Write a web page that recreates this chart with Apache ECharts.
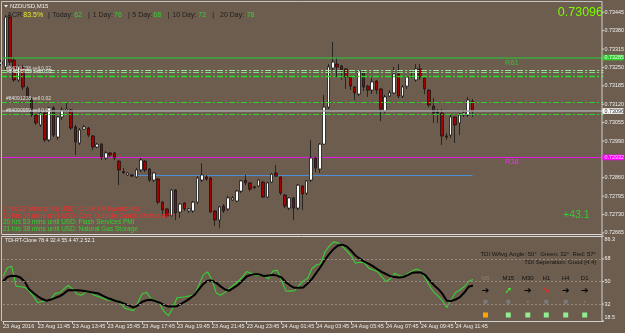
<!DOCTYPE html>
<html>
<head>
<meta charset="utf-8">
<script src="https://cdn.jsdelivr.net/npm/echarts@6/dist/echarts.min.js"></script>
<style>
    html, body { margin: 0; padding: 0; background: #6c5d4e; }
    #chart { width: 625px; height: 333px; }
</style>
</head>
<body>
<div id="chart"></div>
<script>
// NZDUSD M15, prices in points (0.7xxxx -> 7xxxx)
const opens = [73262,73252,73428,73276,73206,73252,73177,73135,73082,73047,73089,72994,73107,73004,73075,73098,73100,73040,72983,73032,
    73036,73008,72969,72979,72930,72948,72948,72919,72882,72870,72870,72863,72888,72919,72891,72852,72856,72774,72750,72725,
    72817,72739,72771,72743,72743,72774,72852,72863,72859,72743,72711,72760,72750,72782,72778,72813,72852,72842,72828,72831,
    72845,72792,72845,72877,72863,72799,72753,72789,72753,72831,72806,72852,72930,72891,72979,73110,73248,73262,73255,73245,
    73216,73181,73156,73234,73184,73170,73202,73174,73096,73149,73160,73227,73149,73184,73216,73206,73245,73213,73170,73114,
    73093,73089,73008,73011,73075,73054,73082,73082,73131];
const closes = [73269,73428,73269,73206,73252,73181,73142,73082,73054,73089,72994,73107,73011,73075,73100,73103,73036,72987,73029,73040,
    73011,72969,72979,72934,72948,72941,72930,72888,72878,72877,72866,72888,72923,72888,72852,72877,72774,72746,72725,72817,
    72736,72767,72750,72750,72774,72859,72870,72856,72739,72711,72757,72743,72789,72789,72813,72849,72842,72820,72826,72852,
    72792,72842,72873,72866,72806,72760,72789,72753,72834,72803,72849,72930,72895,72979,73110,73252,73269,73252,73241,73216,
    73184,73160,73238,73181,73170,73199,73170,73103,73146,73160,73227,73149,73181,73216,73220,73245,73216,73174,73117,73089,
    73089,73008,73004,73075,73047,73082,73089,73135,73096];
const lows = [73255,73241,73259,73199,73199,73170,73135,73075,73047,73040,72987,72987,73004,72994,73064,73093,73029,72941,72976,73029,
    73004,72958,72965,72923,72923,72934,72923,72834,72873,72866,72863,72859,72880,72880,72845,72845,72767,72725,72718,72718,
    72711,72718,72743,72736,72736,72767,72845,72849,72736,72690,72682,72736,72743,72778,72774,72806,72834,72813,72820,72827,
    72789,72789,72842,72863,72799,72753,72746,72711,72746,72746,72799,72845,72880,72877,72976,73103,73241,73216,73206,73174,
    73170,73135,73149,73167,73146,73156,73156,73060,73089,73146,73156,73142,73142,73174,73213,73199,73206,73156,73110,73054,
    73054,72976,72994,73001,72983,73011,73075,73075,73075];
const highs = [73276,73435,73435,73287,73259,73259,73184,73142,73085,73093,73093,73110,73114,73078,73110,73124,73103,73047,73036,73047,
    73040,73011,72983,72983,72955,72951,72951,72923,72895,72880,72873,72895,72930,72923,72895,72880,72859,72778,72753,72820,
    72820,72771,72774,72753,72778,72866,72912,72870,72863,72746,72760,72767,72796,72796,72817,72852,72870,72845,72831,72856,
    72849,72845,72877,72905,72866,72803,72792,72792,72838,72834,72852,72994,72934,72983,73153,73262,73340,73287,73259,73248,
    73220,73184,73241,73241,73188,73213,73206,73177,73153,73170,73252,73262,73188,73220,73241,73262,73262,73216,73174,73142,
    73103,73103,73018,73085,73078,73089,73100,73146,73138];

// TDI-RT-Clone lines
const tdiGreen = [53.9,61.0,62.2,46.3,45.8,45.3,42.5,38.2,33.0,34.0,34.7,35.8,40.5,41.0,44.1,46.8,44.1,40.1,39.0,41.3,
    41.3,39.0,37.8,36.6,35.1,35.5,35.0,32.6,28.7,27.7,26.8,33.4,40.3,41.3,36.2,35.0,32.2,26.1,22.8,28.7,
    37.1,37.5,37.9,38.6,39.0,47.0,55.1,57.7,51.6,40.9,39.0,41.3,44.5,47.2,50.0,53.5,57.9,56.6,54.7,55.1,
    54.7,52.1,58.2,59.1,50.8,42.5,42.3,42.7,46.8,50.5,52.4,60.4,63.2,64.2,73.7,78.4,81.6,80.8,77.8,74.5,
    70.7,64.5,65.4,65.0,60.8,59.2,58.1,53.9,50.0,52.0,56.5,54.7,53.9,56.3,58.4,59.9,58.6,53.0,46.4,41.6,
    38.3,34.6,29.2,35.6,41.2,43.2,45.8,50.2,51.6];
const tdiBlack = [50.0,53.6,54.6,54.4,53.2,49.8,43.8,40.8,38.2,36.0,34.7,35.6,36.9,38.2,40.4,43.1,43.1,43.1,42.8,42.3,
    41.7,41.1,40.4,38.6,36.9,35.7,34.5,33.4,32.2,30.7,29.1,30.9,33.9,35.0,35.4,34.4,33.1,31.4,30.0,30.0,
    30.3,32.4,34.3,36.6,39.2,43.7,47.9,50.6,50.8,48.9,46.1,43.6,42.7,44.9,47.2,50.6,54.0,55.3,55.9,55.6,
    54.3,54.7,55.4,54.7,53.2,49.4,46.8,45.0,45.0,45.3,48.4,52.0,56.9,61.8,67.4,72.1,76.0,78.8,79.4,78.0,
    74.7,70.7,68.2,65.9,64.2,62.3,59.9,57.7,56.0,54.3,53.6,53.2,53.6,55.1,56.9,57.1,57.3,55.2,51.1,47.2,
    44.1,40.1,34.6,34.5,35.6,37.5,41.2,45.8,46.8];

const timeLabels = ['23 Aug 2016','23 Aug 11:45','23 Aug 13:45','23 Aug 15:45','23 Aug 17:45','23 Aug 19:45','23 Aug 21:45',
    '23 Aug 23:45','24 Aug 01:45','24 Aug 03:45','24 Aug 05:45','24 Aug 07:45','24 Aug 09:45','24 Aug 11:45'];
const priceTicks = [73445,73380,73315,73250,73185,73120,73055,72990,72860,72795,72730,72665];
const tdiTicks = [86.3,68,50,32,18.5];
const tdiLevels = [68,50,32];

// horizontal levels
const r61Level = 73285;
const dashLevels = [73239,73232,73220,73127,73084];
const bidPrice = 73096;
const r38Level = 72932;
const blueLevel = 72870;
const blueFrom = 30, blueTo = 108;   // bar range of the blue level

const slots = 139; // bars plus empty right shift
const categories = [];
for (let i = 0; i < slots; i++) categories.push(i);

const candles = opens.map((o, i) => [o, closes[i], lows[i], highs[i]]);

const myChart = echarts.init(document.getElementById('chart'));
const FONT = '"Liberation Sans", Arial, sans-serif';
const labelInterval = function (idx) { return idx % 8 === 0 && idx / 8 < timeLabels.length; };

const option = {
    backgroundColor: '#6c5d4e',
    animation: false,
    grid: [
        {left: 1.1, right: 21.5, top: 2, height: 232},
        {left: 1.1, right: 21.5, top: 236, height: 85}
    ],
    xAxis: [
        {
            type: 'category', gridIndex: 0, data: categories, boundaryGap: false,
            axisLine: {show: false}, axisTick: {show: false}, axisLabel: {show: false}, splitLine: {show: false}
        },
        {
            type: 'category', gridIndex: 1, data: categories, boundaryGap: false,
            axisLine: {lineStyle: {color: '#cfcfcf', width: 1}},
            axisTick: {interval: labelInterval, length: 3, lineStyle: {color: '#cfcfcf'}},
            axisLabel: {
                interval: labelInterval, align: 'left', margin: 2, color: '#ececec',
                fontSize: 5.5, fontFamily: FONT,
                formatter: function (v, idx) { return timeLabels[idx / 8] || ''; }
            },
            splitLine: {show: false}
        }
    ],
    yAxis: [
        {type: 'value', gridIndex: 0, min: 72661.4, max: 73481.4, show: false, splitLine: {show: false}},
        {type: 'value', gridIndex: 1, min: 18.5, max: 86.3, show: false, splitLine: {show: false}}
    ],
    series: [
        {
            type: 'candlestick',
            xAxisIndex: 0, yAxisIndex: 0,
            data: candles,
            barWidth: 3,
            itemStyle: {
                color: '#ffffff', color0: '#a30000',
                borderColor: '#151515', borderColor0: '#151515', borderWidth: 0.8
            },
            markLine: {
                silent: true, symbol: 'none', animation: false,
                label: {show: false},
                emphasis: {disabled: true},
                data: [
                    {yAxis: r61Level, lineStyle: {color: '#3fa83f', width: 1.5, type: 'solid', opacity: 1}},
                    {yAxis: dashLevels[0], lineStyle: {color: '#9be69b', width: 1, type: [6, 2, 2, 2], opacity: 1}},
                    {yAxis: dashLevels[1], lineStyle: {color: '#7fdd7f', width: 1, type: [6, 2, 2, 2], opacity: 1}},
                    {yAxis: dashLevels[2], lineStyle: {color: '#22e022', width: 1.3, type: [6, 2, 2, 2], opacity: 1}},
                    {yAxis: dashLevels[3], lineStyle: {color: '#2ed12e', width: 1.2, type: [6, 2, 2, 2], opacity: 1}},
                    {yAxis: bidPrice, lineStyle: {color: '#a8a8a8', width: 1.5, type: 'solid', opacity: 1}},
                    {yAxis: dashLevels[4], lineStyle: {color: '#2ed12e', width: 1.2, type: [6, 2, 2, 2], opacity: 1}}
                ]
            },
            z: 3
        },
        {
            type: 'line', xAxisIndex: 1, yAxisIndex: 1, data: tdiGreen,
            symbol: 'none', lineStyle: {color: '#35d335', width: 1.1}, z: 3,
            markLine: {
                silent: true, symbol: 'none', label: {show: false},
                lineStyle: {color: '#958b80', width: 1, type: [2, 2]},
                data: tdiLevels.map(v => ({yAxis: v}))
            }
        },
        {
            type: 'line', xAxisIndex: 1, yAxisIndex: 1, data: tdiBlack,
            symbol: 'none', lineStyle: {color: '#000000', width: 2}, z: 4
        }
    ]
};
myChart.setOption(option);

function txt(text, x, y, fill, size, extra) {
    return {
        type: 'text', silent: true, z: 100,
        style: Object.assign({
            text: text, x: x, y: y, fill: fill,
            font: size + 'px ' + FONT, textVerticalAlign: 'middle'
        }, extra || {})
    };
}
function hline(x1, x2, y, color, w, z) {
    return {type: 'line', silent: true, z: z || 90, shape: {x1: x1, y1: y, x2: x2, y2: y}, style: {stroke: color, lineWidth: w || 1}};
}
function vline(x, y1, y2, color, w) {
    return {type: 'line', silent: true, z: 90, shape: {x1: x, y1: y1, x2: x, y2: y2}, style: {stroke: color, lineWidth: w || 1}};
}

const g = [];
// frames
g.push(hline(1.5, 602, 1.5, '#c4c4c4'));
g.push(vline(1.5, 1.5, 234, '#c4c4c4'));
g.push(vline(602, 1.5, 321, '#d0d0d0'));
g.push(hline(1.5, 602, 234.5, '#d8d8d8'));
g.push(hline(1.5, 602, 236.5, '#d8d8d8'));
g.push(vline(1.5, 236.5, 321, '#c4c4c4'));

// R38 (magenta) and the blue level, placed through the axis scales
const yR38 = Math.round(myChart.convertToPixel({yAxisIndex: 0}, r38Level)) + 0.5;
g.push(hline(2, 602, yR38, '#e619e6', 1, 1));
const yBlue = Math.round(myChart.convertToPixel({yAxisIndex: 0}, blueLevel)) + 0.5;
const xb1 = myChart.convertToPixel({xAxisIndex: 0}, blueFrom);
const xb2 = myChart.convertToPixel({xAxisIndex: 0}, blueTo);
g.push(hline(xb1, xb2, yBlue, '#4d8fd6', 1, 1));

// price axis labels
priceTicks.forEach(function (v) {
    const y = myChart.convertToPixel({yAxisIndex: 0}, v);
    g.push(hline(602, 604, y, '#d0d0d0'));
    g.push(txt('0.' + v, 604.5, y, '#f2f2f2', 5.4));
});
// boxes on price axis
function priceBox(v, bg, fg) {
    const y = myChart.convertToPixel({yAxisIndex: 0}, v);
    g.push({type: 'rect', silent: true, z: 95, shape: {x: 602.5, y: y - 2.8, width: 21, height: 5.6}, style: {fill: bg}});
    g.push(Object.assign(txt('0.' + v, 604.5, y, fg, 5.4), {z: 96}));
}
priceBox(r61Level, '#2fcf2f', '#e8ffe8');
priceBox(bidPrice, '#ffffff', '#222222');
priceBox(r38Level, '#ff00ff', '#ffd0ff');

// TDI axis labels
tdiTicks.forEach(function (v, i) {
    let y = myChart.convertToPixel({yAxisIndex: 1}, v);
    if (i === 0) y += 3.5;
    if (i === tdiTicks.length - 1) y -= 3.5;
    g.push(hline(602, 604, myChart.convertToPixel({yAxisIndex: 1}, v), '#d0d0d0'));
    g.push(txt(String(v), 604.5, y, '#f2f2f2', 5.4));
});

// header
g.push({type: 'polygon', silent: true, z: 100, shape: {points: [[4, 5], [8, 5], [6, 7.5]]}, style: {fill: '#f0f0f0'}});
g.push(txt('NZDUSD,M15', 10, 6, '#f0f0f0', 6));
const dark = '#1e1e1e', yel = '#e8e82a', grn = '#30d630';
const acr = [
    ['ACR:', 7.3, dark], ['83.5%', 23.3, yel], ['|', 48, dark], ['Today:', 52.3, dark], ['62', 74.3, grn],
    ['|', 88, dark], ['1 Day:', 92.7, dark], ['76', 114, grn], ['|', 128, dark], ['5 Day:', 132.3, dark],
    ['68', 153.3, grn], ['|', 167.7, dark], ['10 Day:', 172.3, dark], ['72', 198.3, grn], ['|', 212.3, dark],
    ['20 Day:', 220, dark], ['78', 246.7, grn]
];
acr.forEach(function (a) { g.push(txt(a[0], a[1], 15, a[2], 7)); });

// big price and pips
g.push(txt('0.73096', 603, 12.5, '#7cfc00', 12.5, {textAlign: 'right'}));
g.push(txt('+43.1', 563, 215, '#33cc33', 10.5));
g.push(txt('R61', 505, 62.5, '#3cbc3c', 7.5));
g.push(txt('R38', 505, 162, '#f030f0', 7.5));

// trade labels
g.push(txt('#84091238 sell 0.02', 6, 68.5, '#d8d8d8', 5));
g.push(txt('#84090959 sell 0.02', 7, 72, '#e4e4e4', 5));
g.push(txt('#84091238 sell 0.02', 6, 98.7, '#e0e0e0', 5));
g.push(txt('#84090959 sell 0.02', 6, 110.7, '#e0e0e0', 5));

// news
const news = [
    ['2 hrs 22 mins since USD: Crude Oil Inventories', '#ff2a2a'],
    ['19 hrs 38 mins until USD: Core Durable Goods Orders m/m', '#ff2a2a'],
    ['20 hrs 53 mins until USD: Flash Services PMI', '#33d033'],
    ['21 hrs 38 mins until USD: Natural Gas Storage', '#33d033']
];
news.forEach(function (n, i) { g.push(txt(n[0], 3, 209.3 + i * 6.7, n[1], 6.5)); });

// TDI panel
g.push(txt('TDI-RT-Clone 78.4 32.4 55.4 47.2 52.1', 5, 241, '#f0f0f0', 5.2));
g.push(txt('TDI WAvg Angle: 50°  Green: 32°  Red: 57°', 596, 254, '#161616', 6, {textAlign: 'right'}));
g.push(txt('TDI Seperation: Good [4.4]', 596, 262.3, '#161616', 6, {textAlign: 'right'}));

const tfNames = ['M5', 'M15', 'M30', 'H1', 'H4', 'D1'];
const tfX = [485.5, 508.3, 527.8, 546.3, 565.7, 584.7];
const tfArrows = ['➔', '➚', '➔', '➘', '➔', '➔'];
const tfArrowColors = ['#000000', '#33ff33', '#000000', '#ff2020', '#000000', '#000000'];
const tfDots = [2.3, 2.3, 1.1, 2.3, 2.3, 1.1];
const tfBoxes = ['#ffa500', '#90ee90', '#90ee90', '#90ee90', '#90ee90', '#90ee90'];
tfNames.forEach(function (n, i) {
    g.push(txt(n, tfX[i], 278.3, i === 0 ? '#8c8172' : '#111111', 6, {textAlign: 'center'}));
    g.push(txt(tfArrows[i], tfX[i], 290.7, tfArrowColors[i], 9, {textAlign: 'center', font: 'bold 9px "DejaVu Sans"'}));
    g.push({type: 'circle', silent: true, z: 100, shape: {cx: tfX[i], cy: 301.7, r: tfDots[i]}, style: {fill: '#7a7a7a'}});
    g.push({type: 'rect', silent: true, z: 100, shape: {x: tfX[i] - 2.5, y: 312.5, width: 5, height: 5}, style: {fill: tfBoxes[i]}});
});

myChart.setOption({graphic: g});
</script>
</body>
</html>
